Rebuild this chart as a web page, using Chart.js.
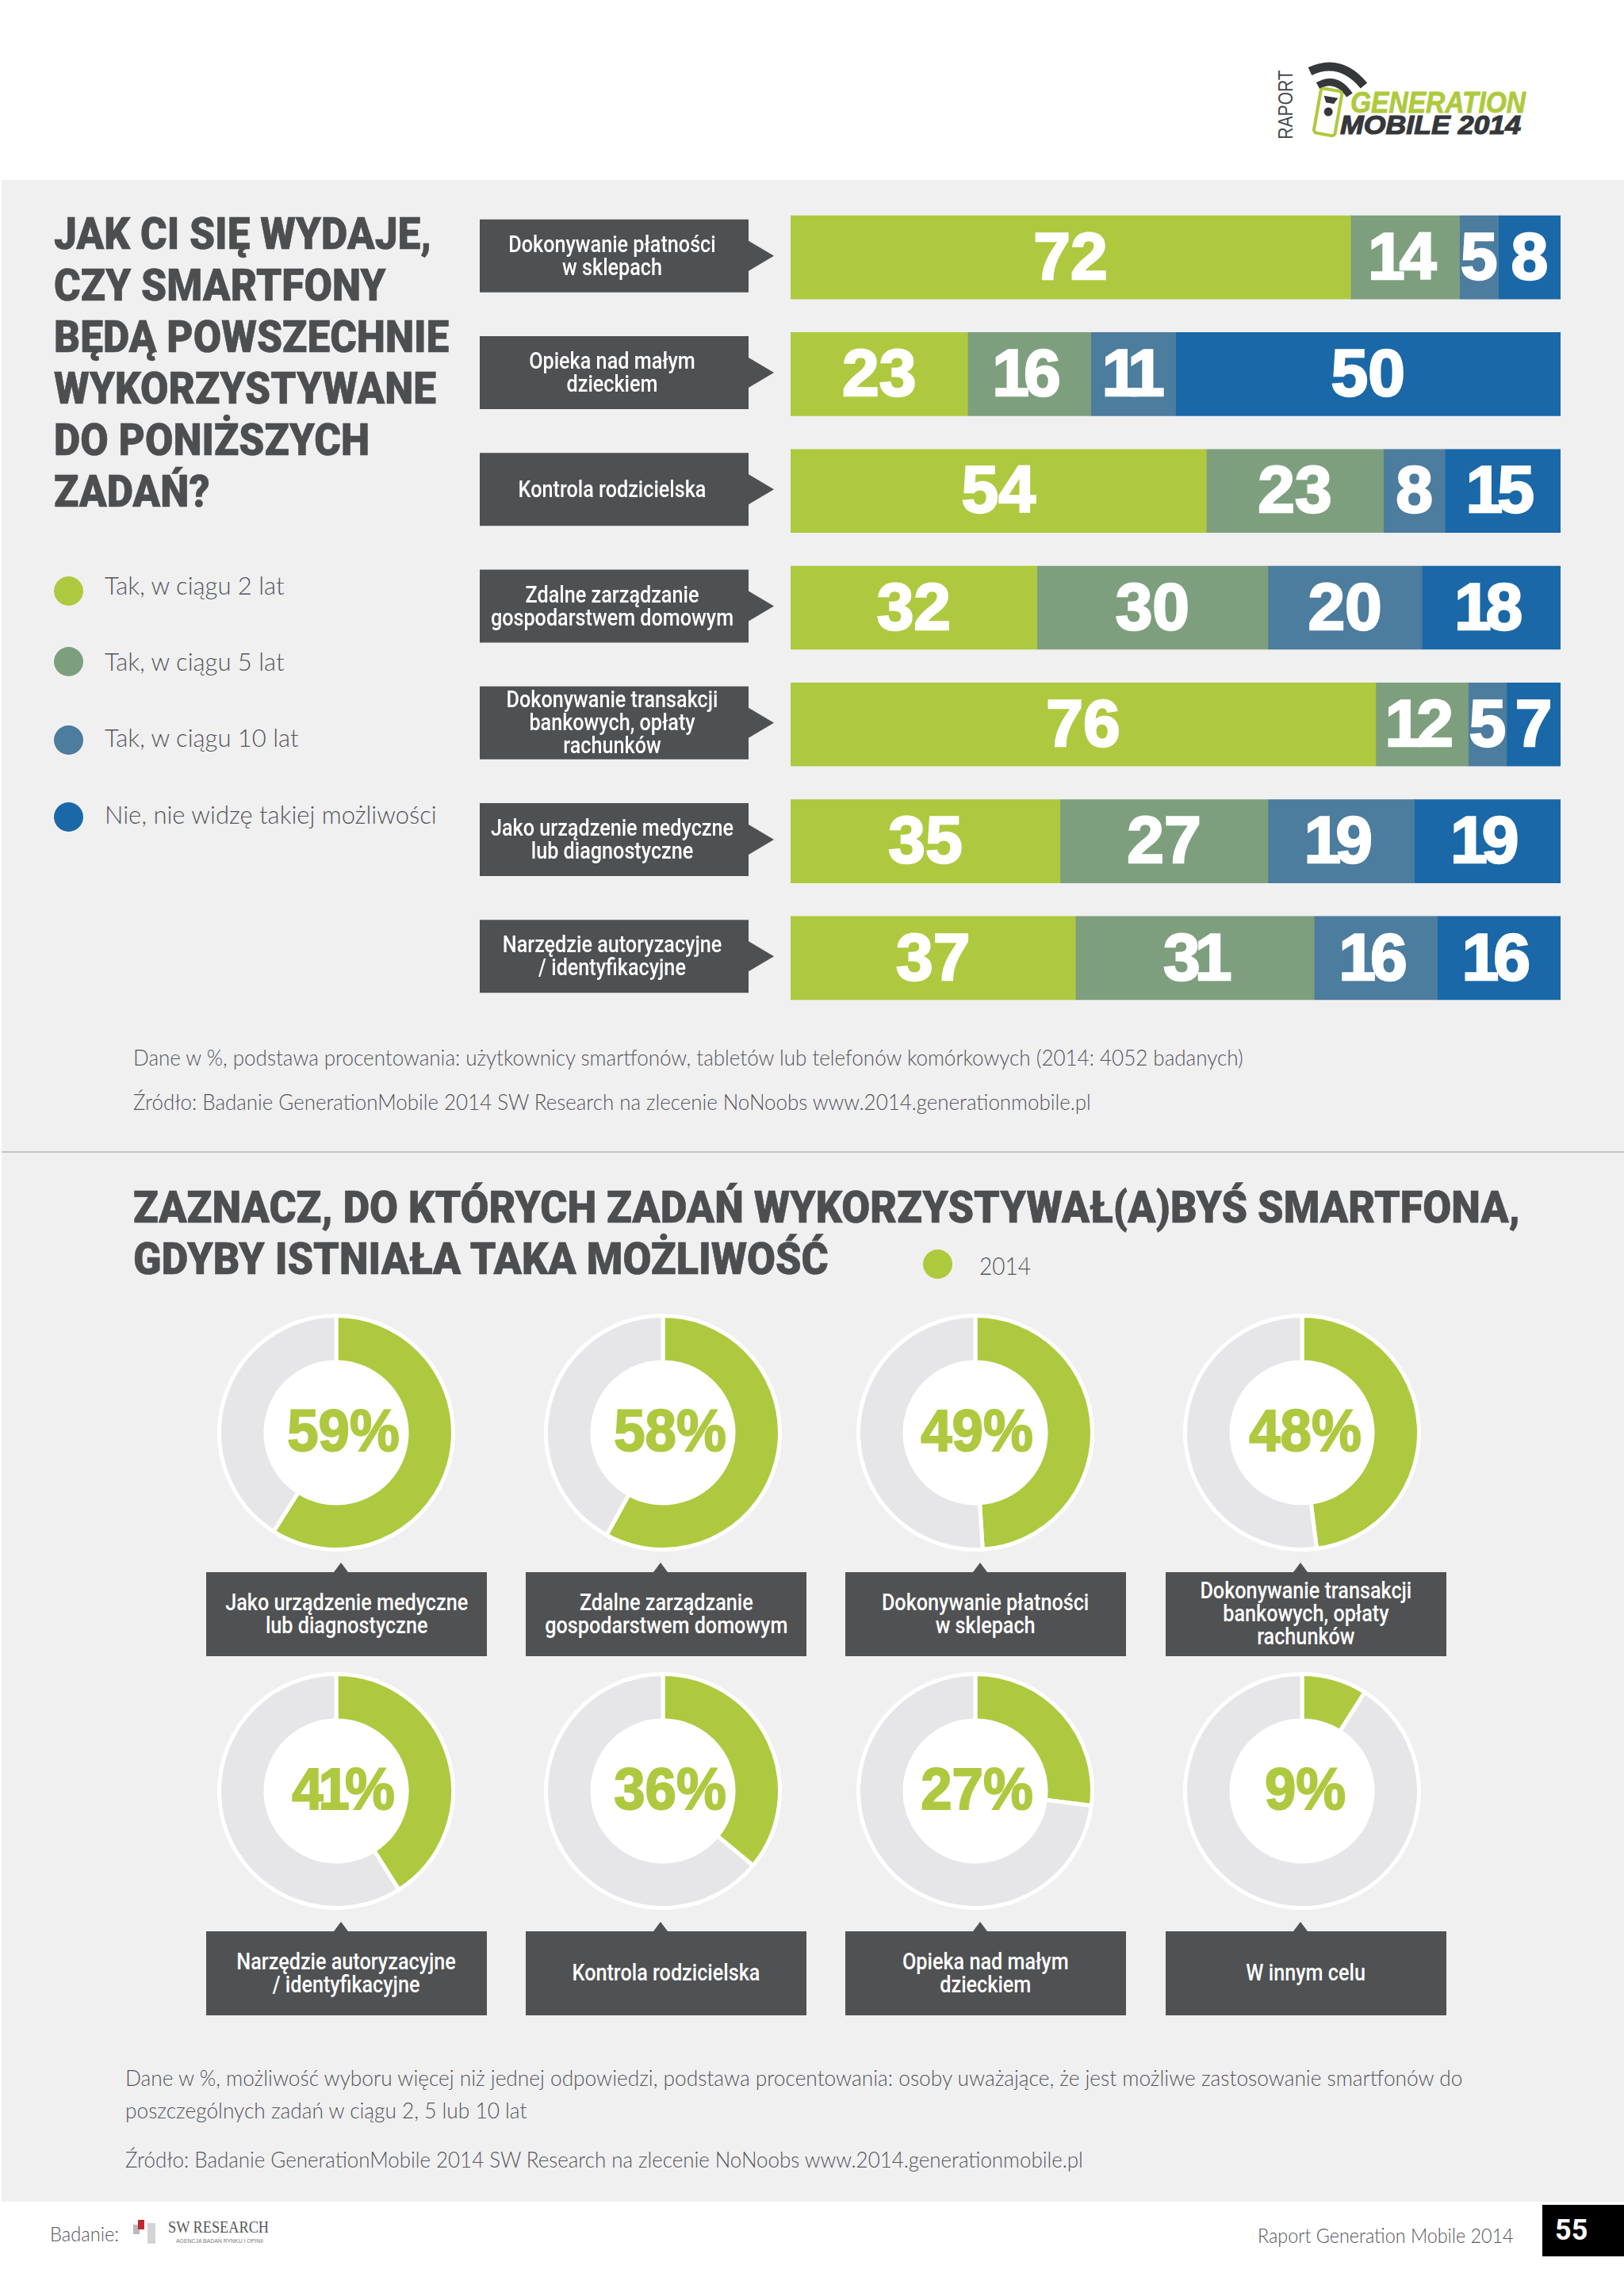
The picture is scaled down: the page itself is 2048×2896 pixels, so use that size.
<!DOCTYPE html>
<html lang="pl">
<head>
<meta charset="utf-8">
<script src="https://cdn.jsdelivr.net/npm/chart.js@4"></script>
<style>
  html, body { margin: 0; padding: 0; background: #fff; }
  #page { position: relative; width: 2048px; height: 2896px; overflow: hidden; font-family: Lato, sans-serif; color: #55565a; }
  #page > * { position: absolute; }
  .panel { left: 2px; width: 2046px; background: #f0f0f1; }
  .head { font: 900 56px/65px Roboto, sans-serif; color: #4d4e50; -webkit-text-stroke: 0.6px #4d4e50; white-space: nowrap; }
  .note { font-weight: 300; font-size: 28px; line-height: 41px; color: #55565a; white-space: nowrap; }
  .dot { width: 37px; height: 37px; border-radius: 50%; }
  .leg { font-weight: 300; font-size: 31px; line-height: 40px; white-space: nowrap; }
  .cap { width: 354px; padding-bottom: 3px; box-sizing: border-box; display: flex; align-items: center; justify-content: center; background: #505153; color: #fff; text-align: center; font: 500 30px/29px Roboto, sans-serif; white-space: pre; }
  .cap span { display: inline-block; transform: scaleX(0.84); }
  .tip { width: 18px; height: 12px; background: #505153; clip-path: polygon(50% 0, 100% 100%, 0 100%); }
</style>
</head>
<body>
<div id="page">
  <div class="panel" style="top:227px;height:2550px"></div>
  <div style="left:2px;top:1452px;width:2046px;height:2px;background:#c4c4c6"></div>

  <svg style="left:1640px;top:70px" width="300" height="110" viewBox="1640 70 300 110">
    <path d="M1652 90 Q1690 72 1720 108" fill="none" stroke="#36373a" stroke-width="11"/>
    <path d="M1662 108 Q1685 95 1702 120" fill="none" stroke="#36373a" stroke-width="9"/>
    <g transform="rotate(10 1675 142)">
      <rect x="1661" y="113" width="27" height="57" rx="4" fill="#fff" stroke="#aec93c" stroke-width="4"/>
      <path d="M1666 122 L1684 122 L1680 130 L1670 130 Z" fill="#36373a"/>
      <circle cx="1675" cy="141" r="5.5" fill="#36373a"/>
    </g>
    <text x="1703" y="142" font-family="Liberation Sans" font-weight="bold" font-style="italic" font-size="37" fill="#aec93c" stroke="#aec93c" stroke-width="0.8" textLength="221" lengthAdjust="spacingAndGlyphs">GENERATION</text>
    <text x="1690" y="169" font-family="Liberation Sans" font-weight="bold" font-style="italic" font-size="33" fill="#36373a" stroke="#36373a" stroke-width="1.2" textLength="228" lengthAdjust="spacingAndGlyphs">MOBILE 2014</text>
  </svg>
  <div style="left:1577px;top:127px;width:88px;text-align:center;font:26px/26px 'Liberation Sans',sans-serif;color:#4a4b4d;transform:rotate(-90deg) scaleX(0.81)">RAPORT</div>

  <div class="head" data-fit="498" style="left:68px;top:263px">JAK CI SIĘ WYDAJE,<br>CZY SMARTFONY<br>BĘDĄ POWSZECHNIE<br>WYKORZYSTYWANE<br>DO PONIŻSZYCH<br>ZADAŃ?</div>
  <canvas id="bars" style="left:604px;top:251px"></canvas>

  <div class="note" data-fit="1400" style="left:168px;top:1313px">Dane w %, podstawa procentowania: użytkownicy smartfonów, tabletów lub telefonów komórkowych (2014: 4052 badanych)</div>
  <div class="note" data-fit="1208" style="left:168px;top:1369px">Źródło: Badanie GenerationMobile 2014 SW Research na zlecenie NoNoobs www.2014.generationmobile.pl</div>

  <div class="head" data-fit="1749" style="left:168px;top:1491px">ZAZNACZ, DO KTÓRYCH ZADAŃ WYKORZYSTYWAŁ(A)BYŚ SMARTFONA,<br>GDYBY ISTNIAŁA TAKA MOŻLIWOŚĆ</div>
  <div class="dot" style="left:1164px;top:1576px;background:#aec93c"></div>
  <div class="leg" data-fit="65" style="left:1235px;top:1576px">2014</div>

  <div class="note" data-fit="1686" style="left:158px;top:2600px">Dane w %, możliwość wyboru więcej niż jednej odpowiedzi, podstawa procentowania: osoby uważające, że jest możliwe zastosowanie smartfonów do<br>poszczególnych zadań w ciągu 2, 5 lub 10 lat</div>
  <div class="note" data-fit="1208" style="left:158px;top:2703px">Źródło: Badanie GenerationMobile 2014 SW Research na zlecenie NoNoobs www.2014.generationmobile.pl</div>

  <div data-fit="87" style="left:63px;top:2802px;font-weight:300;font-size:25px;line-height:30px">Badanie:</div>
  <svg style="left:165px;top:2796px" width="180" height="40" viewBox="165 2796 180 40">
    <rect x="168" y="2806" width="8" height="12" fill="#b9b9bb"/>
    <rect x="174" y="2800" width="8" height="12" fill="#c1272d"/>
    <rect x="186" y="2804" width="10" height="26" fill="#d4d4d6"/>
    <text x="212" y="2816" font-family="Liberation Serif" font-size="20" fill="#55565a" textLength="127" lengthAdjust="spacingAndGlyphs">SW RESEARCH</text>
    <text x="222" y="2829" font-family="Liberation Sans" font-size="7" fill="#77787a" textLength="110" lengthAdjust="spacingAndGlyphs">AGENCJA BADAŃ RYNKU I OPINII</text>
  </svg>
  <div data-fit="323" style="left:1586px;top:2804px;font-weight:300;font-size:25px;line-height:30px;white-space:nowrap">Raport Generation Mobile 2014</div>
  <div style="left:1945px;top:2781px;width:103px;height:65px;background:#000;color:#fff;font:bold 36px/65px Roboto,sans-serif;text-indent:16px">55</div>
</div>

<script>
// top chart
const taskLabels = [
  ['Dokonywanie płatności', 'w sklepach'],
  ['Opieka nad małym', 'dzieckiem'],
  ['Kontrola rodzicielska'],
  ['Zdalne zarządzanie', 'gospodarstwem domowym'],
  ['Dokonywanie transakcji', 'bankowych, opłaty', 'rachunków'],
  ['Jako urządzenie medyczne', 'lub diagnostyczne'],
  ['Narzędzie autoryzacyjne', '/ identyfikacyjne']
];
const seriesNames = ['Tak, w ciągu 2 lat', 'Tak, w ciągu 5 lat', 'Tak, w ciągu 10 lat', 'Nie, nie widzę takiej możliwości'];
const seriesColors = ['#aec93f', '#7d9f7d', '#4c7c9e', '#1a68a7'];
const within2 = [72, 23, 54, 32, 76, 35, 37];
const within5 = [14, 16, 23, 30, 12, 27, 31];
const within10 = [5, 11, 8, 20, 5, 19, 16];
const never = [8, 50, 15, 18, 7, 19, 16];

// doughnuts
const donutLabels = [
  'Jako urządzenie medyczne\nlub diagnostyczne', 'Zdalne zarządzanie\ngospodarstwem domowym',
  'Dokonywanie płatności\nw sklepach', 'Dokonywanie transakcji\nbankowych, opłaty\nrachunków',
  'Narzędzie autoryzacyjne\n/ identyfikacyjne', 'Kontrola rodzicielska',
  'Opieka nad małym\ndzieckiem', 'W innym celu'
];
const donutValues = [59, 58, 49, 48, 41, 36, 27, 9];

const GREEN = '#aec93f';
const page = document.getElementById('page');
Chart.defaults.animation = false;
Chart.defaults.responsive = false;

function addEl(cls, css, text) {
  const el = document.createElement('div');
  el.className = cls;
  el.style.cssText = css;
  if (text) el.textContent = text;
  page.appendChild(el);
  return el;
}

// squeeze text blocks to the width they have in the picture, no condensed fonts here
document.querySelectorAll('[data-fit]').forEach(el => {
  el.style.transformOrigin = '0 0';
  el.style.transform = `scaleX(${el.dataset.fit / el.offsetWidth})`;
});

// big number, glyph by glyph since the "1" is narrow in the original font
function drawNumber(ctx, txt, x, y) {
  const adv = [...txt].map(ch => ctx.measureText(ch).width * (ch === '1' ? 0.7 : 1));
  let pos = x - adv.reduce((a, b) => a + b, 0) / 2;
  [...txt].forEach((ch, i) => {
    ctx.strokeText(ch, pos + adv[i] / 2, y);
    ctx.fillText(ch, pos + adv[i] / 2, y);
    pos += adv[i];
  });
}

// legend
const legendDotY = [745, 834, 933, 1030];
const legendTextY = [738, 834, 930, 1027];
seriesNames.forEach((name, i) => {
  addEl('dot', `left:68px;top:${legendDotY[i] - 18}px;background:${seriesColors[i]}`);
  addEl('leg', `left:132px;top:${legendTextY[i] - 20}px`, name);
});

// dark arrow boxes with the category names, y axis ticks give the rows
const arrowBoxes = {
  id: 'arrowBoxes',
  beforeDatasetsDraw(chart) {
    const { ctx, scales: { y } } = chart;
    ctx.save();
    taskLabels.forEach((lines, i) => {
      const c = y.getPixelForTick(i) - 2;
      ctx.fillStyle = '#4f5052';
      ctx.beginPath();
      ctx.moveTo(1, c - 46);
      ctx.lineTo(340, c - 46);
      ctx.lineTo(340, c - 19);
      ctx.lineTo(372, c);
      ctx.lineTo(340, c + 19);
      ctx.lineTo(340, c + 46);
      ctx.lineTo(1, c + 46);
      ctx.closePath();
      ctx.fill();

      ctx.save();
      ctx.translate(168, c + 2);
      ctx.scale(0.84, 1);
      ctx.fillStyle = '#fff';
      ctx.font = '500 30px Roboto, sans-serif';
      ctx.textAlign = 'center';
      ctx.textBaseline = 'middle';
      lines.forEach((line, l) => ctx.fillText(line, 0, (l - (lines.length - 1) / 2) * 29));
      ctx.restore();
    });
    ctx.restore();
  }
};

// numbers inside the bar segments
const barValues = {
  id: 'barValues',
  afterDatasetsDraw(chart) {
    const { ctx } = chart;
    ctx.save();
    ctx.fillStyle = '#fff';
    ctx.strokeStyle = '#fff';
    ctx.lineWidth = 2.5;
    ctx.font = 'bold 84px "Liberation Sans", sans-serif';
    ctx.textAlign = 'center';
    ctx.textBaseline = 'middle';
    chart.data.datasets.forEach((ds, d) => {
      chart.getDatasetMeta(d).data.forEach((bar, i) => {
        drawNumber(ctx, String(ds.raw[i]), (bar.x + bar.base) / 2, bar.y + 4);
      });
    });
    ctx.restore();
  }
};

const rawSeries = [within2, within5, within10, never];
const rowTotal = within2.map((_, i) => rawSeries.reduce((s, r) => s + r[i], 0));

const barCanvas = document.getElementById('bars');
barCanvas.width = 1364;
barCanvas.height = 1031;
new Chart(barCanvas, {
  type: 'bar',
  data: {
    labels: taskLabels,
    datasets: rawSeries.map((r, d) => ({
      label: seriesNames[d],
      raw: r,
      // the picture fills each row to full width, also where the rounded numbers add up to 99
      data: r.map((v, i) => v / rowTotal[i] * 100),
      backgroundColor: seriesColors[d],
      barThickness: 105,
      borderWidth: 0
    }))
  },
  options: {
    indexAxis: 'y',
    maintainAspectRatio: false,
    layout: { padding: 0 },
    plugins: { legend: { display: false }, tooltip: { enabled: false } },
    scales: {
      x: { stacked: true, display: false, min: 0, max: 100 },
      y: {
        stacked: true,
        afterFit(scale) { scale.width = 393; },
        border: { display: false },
        grid: { display: false, drawTicks: false },
        ticks: { display: false, autoSkip: false }
      }
    }
  },
  plugins: [arrowBoxes, barValues]
});

// hole of the doughnut and the number in it
const donutCentre = {
  id: 'donutCentre',
  beforeDatasetsDraw(chart) {
    const { ctx } = chart, arc = chart.getDatasetMeta(0).data[0];
    ctx.save();
    ctx.fillStyle = '#fff';
    ctx.beginPath();
    ctx.arc(arc.x, arc.y, arc.innerRadius + 2, 0, Math.PI * 2);
    ctx.fill();
    ctx.restore();
  },
  afterDatasetsDraw(chart, args, opts) {
    const { ctx } = chart, arc = chart.getDatasetMeta(0).data[0];
    ctx.save();
    ctx.translate(arc.x + opts.shift, arc.y + 3);
    ctx.scale(0.955, 1);
    ctx.fillStyle = GREEN;
    ctx.strokeStyle = GREEN;
    ctx.lineWidth = 2;
    ctx.font = 'bold 74px "Liberation Sans", sans-serif';
    ctx.textAlign = 'center';
    ctx.textBaseline = 'middle';
    drawNumber(ctx, chart.data.datasets[0].data[0] + '%', 0, 0);
    ctx.restore();
  }
};

const colX = [424, 836, 1230, 1642];
const rowY = [1807, 2259];
const boxX = [260, 663, 1066, 1470];
const tipX = [430, 833, 1236, 1640];
const boxTop = [1983, 2436];
const textShift = [9, 9, 2, 4];

donutValues.forEach((v, i) => {
  const col = i % 4, row = Math.floor(i / 4);
  const c = document.createElement('canvas');
  c.width = 300;
  c.height = 300;
  c.style.cssText = `left:${colX[col] - 150}px;top:${rowY[row] - 150}px`;
  page.appendChild(c);
  new Chart(c, {
    type: 'doughnut',
    data: {
      labels: [donutLabels[i], 'pozostali'],
      datasets: [{
        data: [v, 100 - v],
        backgroundColor: [GREEN, '#e6e5e8'],
        borderColor: '#fff',
        borderWidth: 5,
        hoverOffset: 0,
        hoverBorderWidth: 0
      }]
    },
    options: {
      maintainAspectRatio: false,
      cutout: 89,
      layout: { padding: 0 },
      plugins: { legend: { display: false }, tooltip: { enabled: false }, donutCentre: { shift: textShift[col] } }
    },
    plugins: [donutCentre]
  });
  addEl('tip', `left:${tipX[col] - 9}px;top:${boxTop[row] - 12}px`);
  const cap = addEl('cap', `left:${boxX[col]}px;top:${boxTop[row]}px;height:106px`);
  const span = document.createElement('span');
  span.textContent = donutLabels[i];
  cap.appendChild(span);
});
</script>
</body>
</html>
